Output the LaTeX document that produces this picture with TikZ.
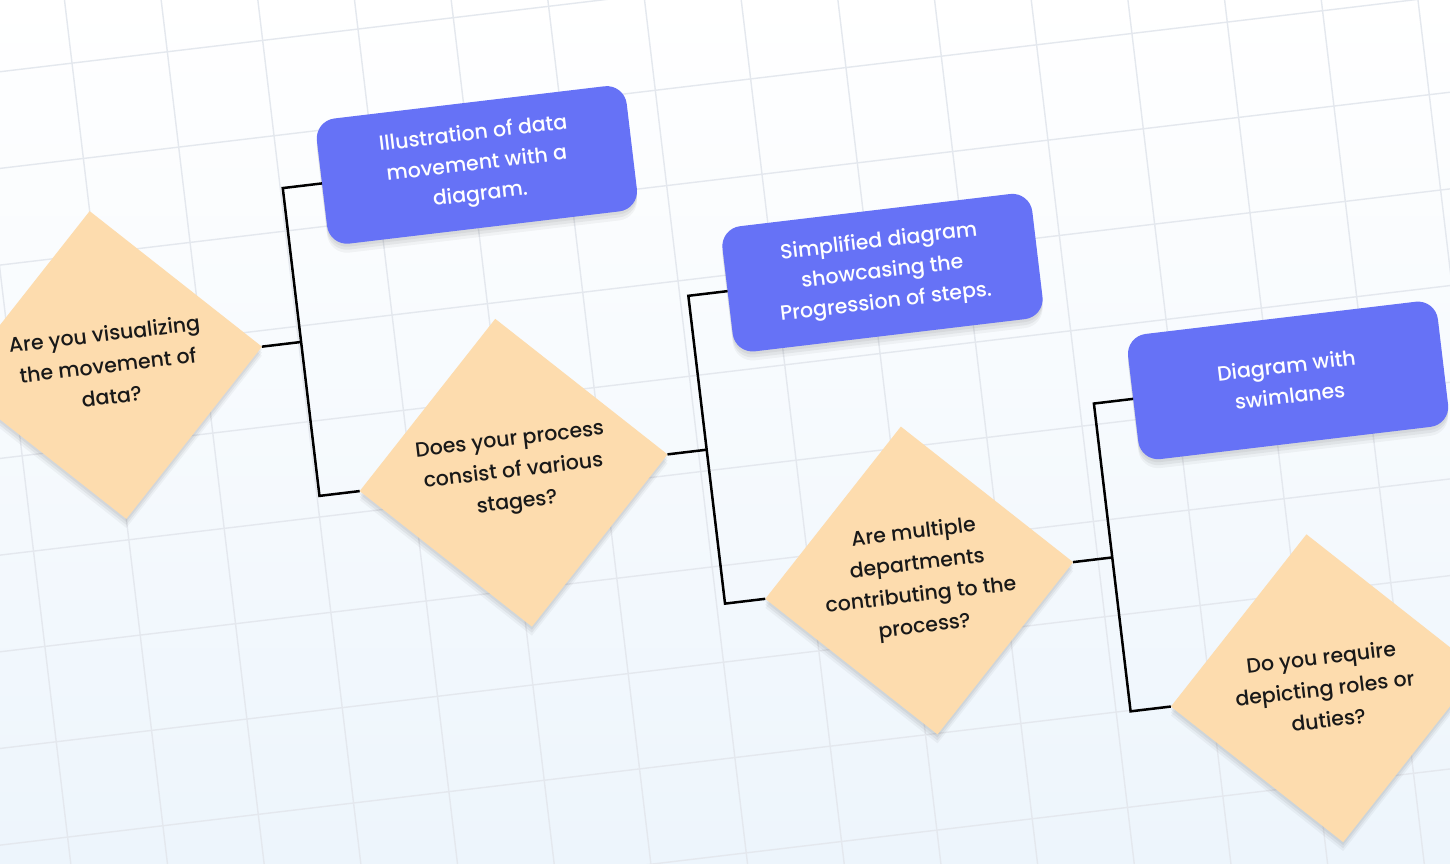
\documentclass[tikz,border=0pt]{standalone}
\usepackage{fontspec}
\setmainfont{Poppins}[UprightFont=* Medium]
\usepackage{xcolor}
\usepackage{tikz}
\usetikzlibrary{shapes.geometric}
\usetikzlibrary{shadows}
\definecolor{boxblue}{HTML}{6672F6}
\definecolor{peach}{HTML}{FDDCAE}
\definecolor{gridgray}{HTML}{E4E8EE}
\definecolor{bgblue}{HTML}{EDF5FC}
\tikzset{
	softshadow/.style={general shadow={shadow yshift=-3pt,fill=black,opacity=.05},
		general shadow={shadow yshift=-6pt,fill=black,opacity=.05},
		general shadow={shadow yshift=-9pt,fill=black,opacity=.04}},
	question/.style={diamond,aspect=1,minimum size=310pt,inner sep=-30pt,outer sep=0pt,fill=peach,
		text=black!90,align=center,font=\fontsize{20.5}{31.5}\selectfont,softshadow},
	answer/.style={rectangle,rounded corners=20pt,minimum width=312pt,minimum height=126pt,
		inner sep=0pt,outer sep=0pt,fill=boxblue,text=white,align=center,
		font=\fontsize{20.5}{30.5}\selectfont,softshadow},
	link/.style={line width=2.5pt,black},
	gridline/.style={line width=1.4pt,gridgray}
}
\begin{document}
\begin{tikzpicture}[x=1pt,y=1pt]
		\useasboundingbox (0,0) rectangle (1450,-864);
		\clip (0,0) rectangle (1450,-864);
		\fill[top color=white,bottom color=bgblue] (0,0) rectangle (1450,-864);
	\begin{scope}[shift={(108,-365)},rotate=6.8,transform shape]
		% grid
		\foreach \gx in {-2,...,15} \draw[gridline] (\gx*96,-700) -- (\gx*96,420);
		\foreach \gy in {-7,...,4} \draw[gridline] (-220,\gy*96+16) -- (1420,\gy*96+16);
		% questions and answers
		\node[question] (d1) at (0,0) {Are you visualizing\\the movement of\\data?};
		\node[answer] (b1) at (390,155) {Illustration of data\\movement with a\\diagram.};
		\node[question] (d2) at (390,-155) {Does your process\\consist of various\\stages?};
		\node[answer] (b2) at (780,0) {Simplified diagram\\showcasing the\\Progression of steps.};
		\node[question] (d3) at (780,-310) {Are multiple\\departments\\contributing to the\\process?};
		\node[answer] (b3) at (1170,-155) {Diagram with\\swimlanes};
		\node[question] (d4) at (1170,-465) {Do you require\\depicting roles or\\duties?};
		% connectors
		\draw[link] (d1.east) -- ++(39.5,0);
		\draw[link] (b1.west) -- ++(-39.5,0) -- ++(0,-310) -- (d2.west);
		\draw[link] (d2.east) -- ++(39.5,0);
		\draw[link] (b2.west) -- ++(-39.5,0) -- ++(0,-310) -- (d3.west);
		\draw[link] (d3.east) -- ++(39.5,0);
		\draw[link] (b3.west) -- ++(-39.5,0) -- ++(0,-310) -- (d4.west);
	\end{scope}
\end{tikzpicture}
\end{document}
